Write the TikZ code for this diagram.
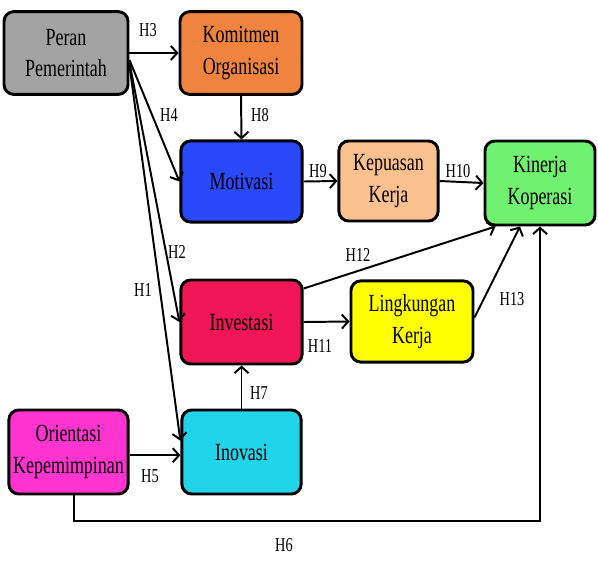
\documentclass[tikz,border=0pt]{standalone}
\usepackage{fontspec}
\setmainfont{Liberation Serif}[FakeStretch=0.73]
\usepackage{tikz}
\usetikzlibrary{arrows.meta, calc, positioning}
\definecolor{GrayBox}{RGB}{163, 163, 163}
\definecolor{OrangeBox}{RGB}{240, 132, 62}
\definecolor{BlueBox}{RGB}{40, 72, 250}
\definecolor{PeachBox}{RGB}{250, 192, 142}
\definecolor{GreenBox}{RGB}{112, 242, 112}
\definecolor{RedBox}{RGB}{240, 22, 88}
\definecolor{YellowBox}{RGB}{255, 255, 0}
\definecolor{PinkBox}{RGB}{255, 52, 208}
\definecolor{CyanBox}{RGB}{32, 212, 234}
\tikzset{
	varbox/.style={draw, line width=2.1pt, rounded corners=7pt, align=center,
		minimum width=3cm, minimum height=2.07cm, inner sep=1pt,
		font=\fontsize{17.5}{22.5}\selectfont},
	hlab/.style={font=\fontsize{14}{15}\selectfont, inner sep=1pt},
	arr/.style={line width=1.4pt, -{Straight Barb[length=4.5pt,width=10pt,line width=1.4pt]}}
}

\begin{document}
\begin{tikzpicture}[x=0.025cm, y=-0.025cm]
		\useasboundingbox (0,0) rectangle (598,560);
		% variables
		\node[varbox, fill=GrayBox, minimum width=3.1cm] (peran) at (66,53) {Peran\\Pemerintah};
		\node[varbox, fill=OrangeBox, minimum width=3.05cm] (komitmen) at (241,53) {Komitmen\\Organisasi};
		\node[varbox, fill=BlueBox, minimum width=3.03cm, minimum height=2.03cm] (motivasi) at (241.5,181.5) {Motivasi};
		\node[varbox, fill=PeachBox, minimum width=2.48cm, minimum height=2cm] (kepuasan) at (388.5,181) {Kepuasan\\Kerja};
		\node[varbox, fill=GreenBox, minimum width=2.75cm, minimum height=2.1cm] (kinerja) at (540,183) {Kinerja\\Koperasi};
		\node[varbox, fill=RedBox, minimum width=3.03cm, minimum height=2.1cm] (investasi) at (241.5,322) {Investasi};
		\node[varbox, fill=YellowBox, minimum width=3.05cm, minimum height=2.03cm] (lingkungan) at (412,321.5) {Lingkungan\\Kerja};
		\node[varbox, fill=PinkBox, minimum width=2.98cm, minimum height=2.1cm] (orientasi) at (68.5,452) {Orientasi\\Kepemimpinan};
		\node[varbox, fill=CyanBox, minimum width=2.98cm, minimum height=2.1cm] (inovasi) at (241.5,452) {Inovasi};
		% paths
		\draw[arr] (peran.east) -- (komitmen.west);
		\draw[arr] (komitmen.south) -- (motivasi.north);
		\draw[arr] ([yshift=-5pt]peran.east) -- (motivasi.west);
		\draw[arr] ([yshift=-7pt]peran.east) -- (investasi.west);
		\draw[arr] ([yshift=-9pt]peran.east) -- ([yshift=8pt]inovasi.west);
		\draw[arr] (motivasi.east) -- (kepuasan.west);
		\draw[arr] (kepuasan.east) -- (kinerja.west);
		\draw[arr] ([yshift=-0.25cm]investasi.north east) -- ([xshift=0.3cm]kinerja.south west);
		\draw[arr] (investasi.east) -- (lingkungan.west);
		\draw[arr] ([yshift=0.1cm]lingkungan.east) -- ([xshift=-0.5cm]kinerja.south);
		\draw[arr] (inovasi.north) -- (investasi.south);
		\draw[arr] ([yshift=-0.08cm]orientasi.east) -- ([yshift=-0.08cm]inovasi.west);
		\coordinate (bend) at (74,521);
		\draw[arr] (orientasi.south -| bend) -- (bend) -| (kinerja.south);
		% labels
		\node[hlab] (h1) at (143,290) {H1};
		\node[hlab] (h2) at (177,252) {H2};
		\node[hlab] (h3) at (148,30) {H3};
		\node[hlab] (h4) at (169,115) {H4};
		\node[hlab] (h5) at (150,476) {H5};
		\node[hlab] (h6) at (284,545) {H6};
		\node[hlab] (h7) at (259,393) {H7};
		\node[hlab] (h8) at (260,115) {H8};
		\node[hlab] (h9) at (318,171) {H9};
		\node[hlab] (h10) at (458,171) {H10};
		\node[hlab] (h11) at (320,346) {H11};
		\node[hlab] (h12) at (358,255) {H12};
		\node[hlab] (h13) at (512,299) {H13};
	\end{tikzpicture}
\end{document}
